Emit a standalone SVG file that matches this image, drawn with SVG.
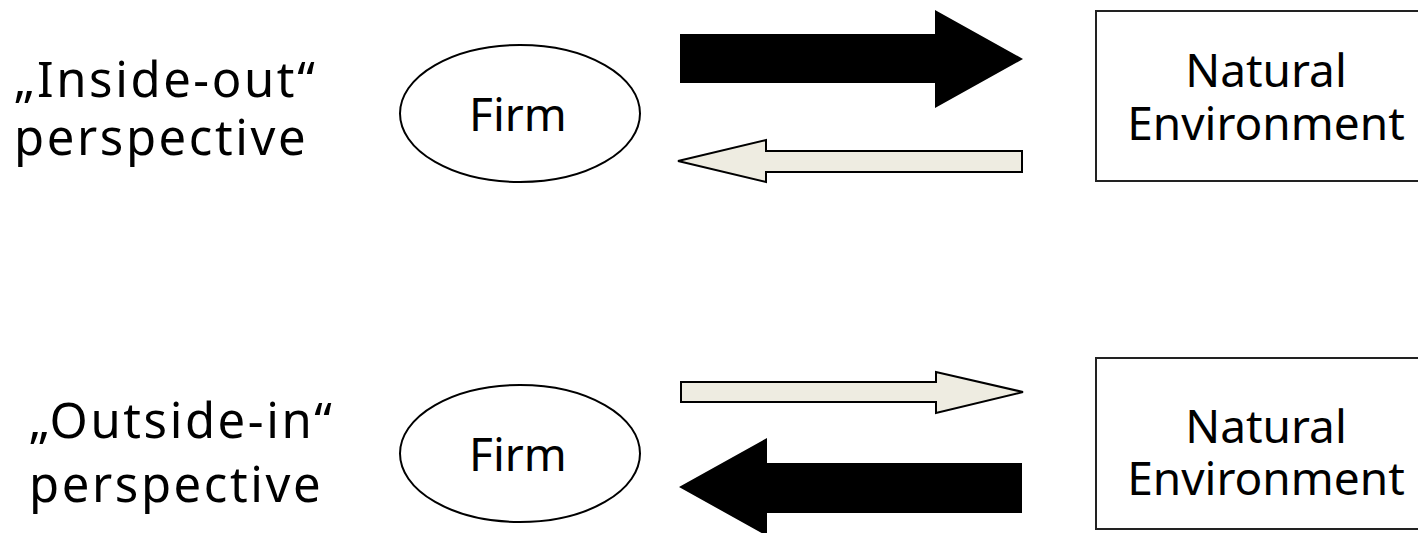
<svg xmlns="http://www.w3.org/2000/svg" width="1418" height="533" viewBox="0 0 1418 533">
<style>
.lbl{font-family:"Noto Sans","Liberation Sans",sans-serif;font-size:49px;letter-spacing:2.6px;fill:#000}
.firm{font-family:"Noto Sans","Liberation Sans",sans-serif;font-size:46px;fill:#000;text-anchor:middle}
.env{font-family:"Noto Sans","Liberation Sans",sans-serif;font-size:46px;fill:#000;text-anchor:middle}
.ell{fill:#fff;stroke:#000;stroke-width:2}
.box{fill:#fff;stroke:#222;stroke-width:2}
.strong{fill:#000;stroke:none}
.weak{fill:#EEECE1;stroke:#000;stroke-width:2;stroke-linejoin:miter}
</style>
<rect width="1418" height="533" fill="#fff"/>
<g id="label-inside-out">
<text class="lbl" x="14" y="97">„Inside-out“</text>
<text class="lbl" x="14" y="155">perspective</text>
</g>
<g id="label-outside-in">
<text class="lbl" x="29" y="438">„Outside-in“</text>
<text class="lbl" x="29" y="502">perspective</text>
</g>
<g id="firm-top">
<ellipse class="ell" cx="520" cy="113.5" rx="120" ry="68.5"/>
<text class="firm" x="518" y="131">Firm</text>
</g>
<g id="env-top">
<rect class="box" x="1096" y="11" width="340" height="170"/>
<text class="env" x="1266" y="87">Natural</text>
<text class="env" x="1266" y="140">Environment</text>
</g>
<g id="firm-bottom">
<ellipse class="ell" cx="520" cy="453.5" rx="120" ry="68.5"/>
<text class="firm" x="518" y="471">Firm</text>
</g>
<g id="env-bottom">
<rect class="box" x="1096" y="358" width="340" height="171"/>
<text class="env" x="1266" y="443">Natural</text>
<text class="env" x="1266" y="495">Environment</text>
</g>
<g id="connectors">
<polygon class="strong" points="680,34 935,34 935,10 1023,59 935,108 935,83 680,83"/>
<polygon class="weak" points="1022,151 766,151 766,140 678,161 766,182 766,172 1022,172"/>
<polygon class="weak" points="681,382 936,382 936,372 1023,392 936,413 936,402 681,402"/>
<polygon class="strong" points="1022,463 767,463 767,438 679,487 767,536 767,513 1022,513"/>
</g>
</svg>
